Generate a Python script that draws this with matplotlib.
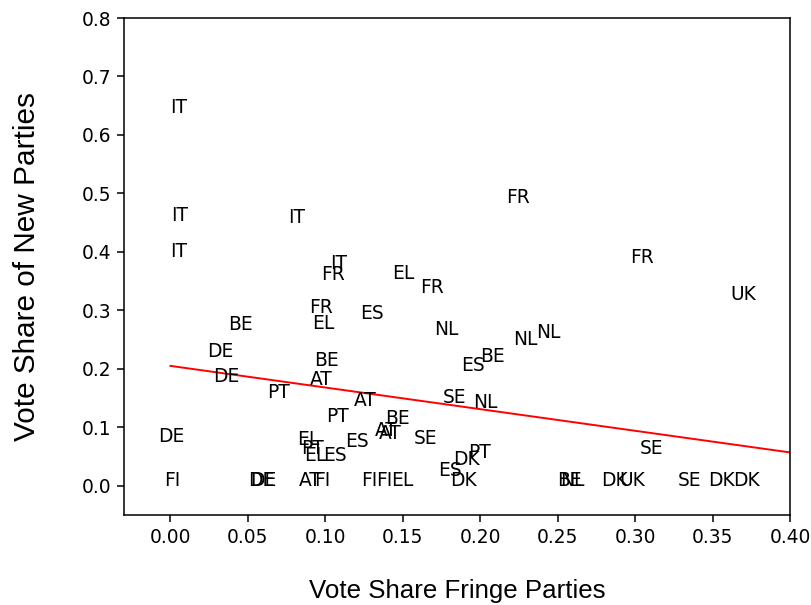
import numpy as np
import matplotlib
matplotlib.use("Agg")
import matplotlib.pyplot as plt

# country labels with fringe-party share (x) and new-party share (y)
countries = ["IT", "IT", "IT", "IT", "IT", "FR", "EL", "FR", "FR", "ES",
             "BE", "EL", "NL", "DE", "BE", "ES", "DE", "AT", "PT", "AT",
             "SE", "NL", "PT", "BE", "AT", "AT", "SE", "DE", "EL", "ES",
             "PT", "EL", "ES", "ES", "DK", "PT", "DK",
             "FI", "DE", "DE", "AT", "FI", "FI", "FI", "EL",
             "BE", "NL", "DK", "UK", "SE", "DK", "DK",
             "FR", "FR", "UK", "NL", "NL", "BE", "SE"]
fringe = [0.000, 0.0005, 0.0757, 0.000, 0.103, 0.0972, 0.1428, 0.161, 0.0897, 0.1226,
          0.0374, 0.0912, 0.170, 0.0237, 0.0929, 0.1875, 0.0275, 0.0903, 0.0621, 0.1187,
          0.1757, 0.1953, 0.1002, 0.1387, 0.132, 0.1348, 0.157, -0.0077, 0.0815, 0.1129,
          0.0843, 0.0865, 0.0987, 0.173, 0.1828, 0.1925, 0.1806,
          -0.0043, 0.0499, 0.0516, 0.0826, 0.0929, 0.1234, 0.1327, 0.1424,
          0.2495, 0.2516, 0.278, 0.290, 0.3273, 0.3473, 0.363,
          0.2168, 0.2968, 0.3613, 0.2215, 0.236, 0.200, 0.3028]
new = [0.638, 0.452, 0.449, 0.392, 0.370, 0.352, 0.353, 0.329, 0.295, 0.285,
       0.267, 0.268, 0.257, 0.221, 0.204, 0.1966, 0.177, 0.1726, 0.150, 0.137,
       0.141, 0.133, 0.109, 0.1054, 0.0855, 0.0798, 0.0718, 0.0747, 0.070, 0.067,
       0.0547, 0.0416, 0.0416, 0.016, 0.036, 0.047, 0.000,
       0.000, 0.000, 0.000, 0.000, 0.000, 0.000, 0.000, 0.000,
       0.000, 0.000, 0.000, 0.000, 0.000, 0.000, 0.000,
       0.483, 0.381, 0.317, 0.240, 0.252, 0.2125, 0.0547]

# fitted line
fit_x = [0.0, 0.40]
fit_y = [0.205, 0.057]

plt.rcParams['font.family'] = ['DejaVu Sans']

fig = plt.figure(figsize=(8.11, 6.05), dpi=100)
ax = fig.add_axes([0.1529, 0.1488, 0.8212, 0.8214])

for c, x, y in zip(countries, fringe, new):
    ax.text(x, y, c, fontsize=13.4)

ax.plot(fit_x, fit_y, color="red", lw=1.4)

ax.set_xlim(-0.03, 0.40)
ax.set_ylim(-0.05, 0.8)
ax.set_xticks(np.arange(0, 0.401, 0.05))
ax.set_yticks(np.arange(0, 0.801, 0.1))
ax.tick_params(labelsize=13.4, length=4.7, width=1.1, pad=4.7)
for s in ax.spines.values():
    s.set_linewidth(1.1)

ax.set_xlabel("Vote Share Fringe Parties", fontsize=18.6, family="Liberation Sans")
ax.set_ylabel("Vote Share of New Parties", fontsize=21.4, family="Liberation Sans")
ax.xaxis.label.set_va("baseline")
ax.yaxis.label.set_va("baseline")
ax.xaxis.set_label_coords(0.5, -0.167)
ax.yaxis.set_label_coords(-0.1336, 0.5)

fig.savefig("out.png", dpi=100)
